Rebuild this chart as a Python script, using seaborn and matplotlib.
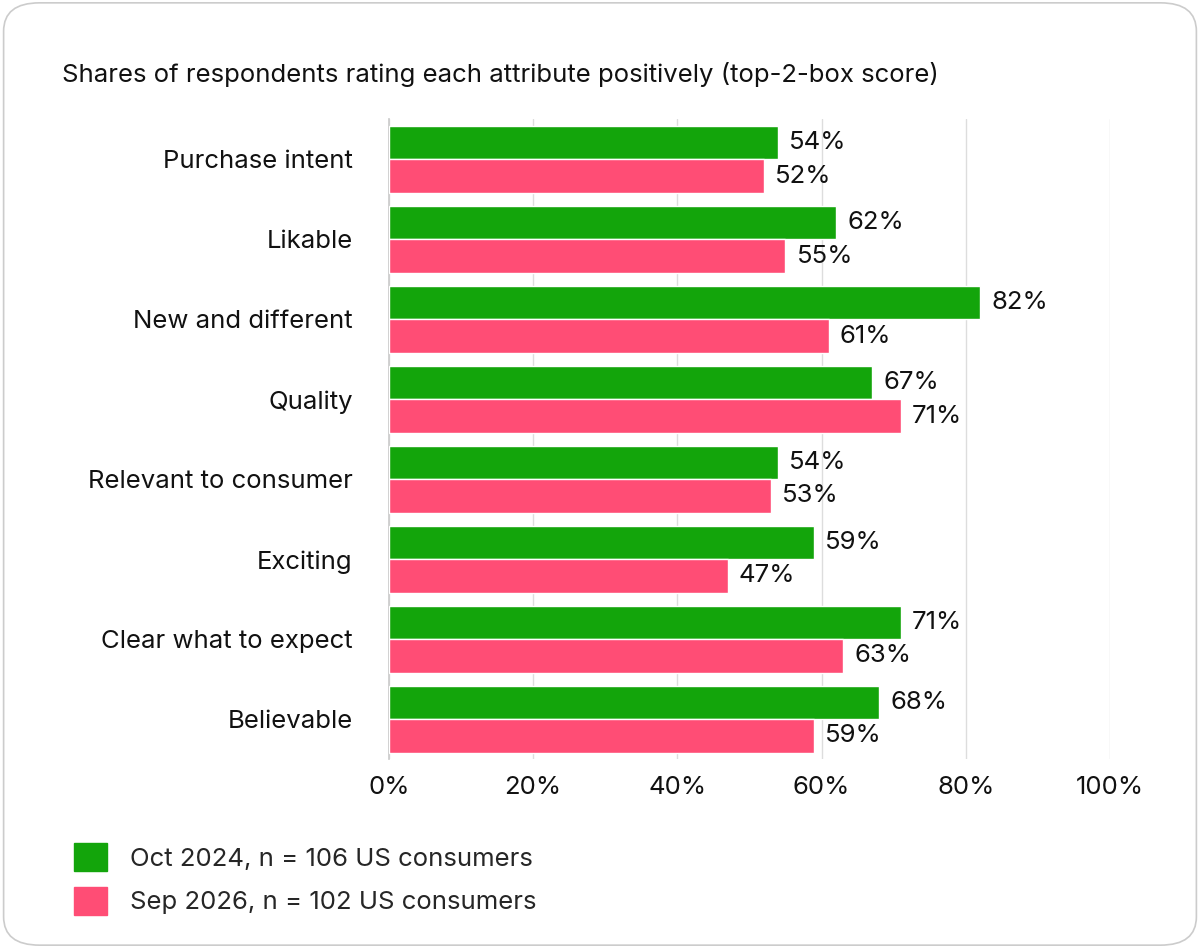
import pandas as pd
import matplotlib.pyplot as plt
import seaborn as sns
from matplotlib.patches import FancyBboxPatch, Patch

attributes = ["Purchase intent", "Likable", "New and different", "Quality",
              "Relevant to consumer", "Exciting", "Clear what to expect", "Believable"]
oct_2024 = [54, 62, 82, 67, 54, 59, 71, 68]
sep_2026 = [52, 55, 61, 71, 53, 47, 63, 59]
series_names = ["Oct 2024, n = 106 US consumers", "Sep 2026, n = 102 US consumers"]
colors = ["#13A50B", "#FF4D75"]

df = pd.DataFrame({
    "attribute": attributes * 2,
    "value": oct_2024 + sep_2026,
    "series": [series_names[0]] * len(attributes) + [series_names[1]] * len(attributes),
})

sns.set_theme(style="white")
plt.rcParams["font.family"] = ["Inter", "DejaVu Sans"]

fig = plt.figure(figsize=(12, 9.48), dpi=100)
fig.patches.append(FancyBboxPatch((0.003, 0.003), 0.994, 0.994, boxstyle="round,pad=0,rounding_size=0.03",
                                  transform=fig.transFigure, facecolor="white", edgecolor="#cccccc",
                                  linewidth=1.2, zorder=-10))
ax = fig.add_axes([0.324, 0.199, 0.601, 0.675])
ax.set_facecolor("none")

sns.barplot(data=df, x="value", y="attribute", hue="series", palette=colors, saturation=1,
            width=0.83, ax=ax, legend=False, zorder=3)

for container in ax.containers:
    ax.bar_label(container, labels=[f"{v:.0f}%" for v in container.datavalues],
                 padding=8, fontsize=18.5, color="#111111")

ax.set_xlim(0, 100)
ax.set_xticks(range(0, 101, 20))
ax.set_xticklabels([f"{t}%" for t in range(0, 101, 20)], fontsize=18.5, color="#111111")
ax.tick_params(axis="x", pad=12, length=0)
ax.tick_params(axis="y", labelsize=18.5, labelcolor="#111111", pad=26, length=0)
ax.xaxis.grid(True, color="#dddddd", linewidth=1)
ax.set_axisbelow(True)
ax.set_xlabel("")
ax.set_ylabel("")
for s in ["top", "right", "bottom"]:
    ax.spines[s].set_visible(False)
ax.spines["left"].set_color("#cccccc")

fig.text(0.052, 0.921, "Shares of respondents rating each attribute positively (top-2-box score)",
         fontsize=18.5, color="#111111", va="center")

handles = [Patch(facecolor=c, edgecolor=c, label=n) for c, n in zip(colors, series_names)]
fig.legend(handles=handles, loc="upper left", bbox_to_anchor=(0.042, 0.135), frameon=False,
           fontsize=18.5, handlelength=1.3, handleheight=1.3, labelspacing=0.6, handletextpad=0.9)

fig.savefig("out.png", dpi=100)
